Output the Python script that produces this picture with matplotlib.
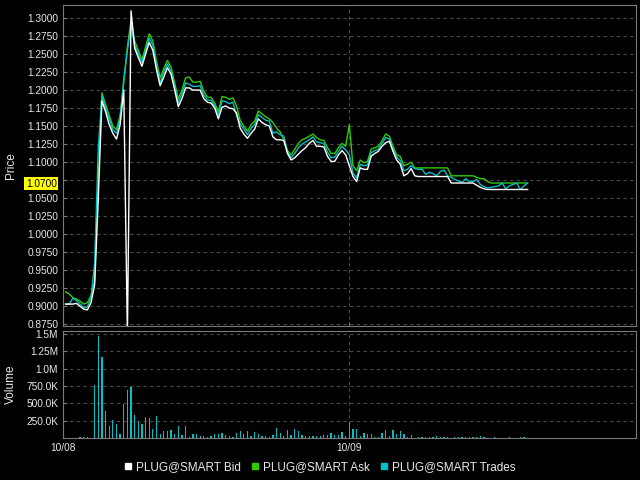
import numpy as np
import matplotlib.pyplot as plt
from matplotlib.lines import Line2D

# 5-minute bars, 10/08 session start -> 10/09
ask = [0.920, 0.917, 0.912, 0.910, 0.907, 0.903, 0.905, 0.915, 0.935, 1.080,
       1.196, 1.180, 1.165, 1.150, 1.145, 1.165, 1.210, 1.260, 1.297, 1.268,
       1.255, 1.242, 1.260, 1.278, 1.268, 1.240, 1.217, 1.230, 1.241, 1.232,
       1.210, 1.188, 1.200, 1.217, 1.218, 1.211, 1.211, 1.212, 1.198, 1.190,
       1.190, 1.182, 1.170, 1.191, 1.190, 1.187, 1.189, 1.178, 1.158, 1.150,
       1.143, 1.152, 1.157, 1.171, 1.167, 1.163, 1.160, 1.155, 1.147, 1.142,
       1.130, 1.116, 1.110, 1.118, 1.126, 1.131, 1.133, 1.136, 1.139, 1.134,
       1.131, 1.130, 1.120, 1.112, 1.112, 1.120, 1.126, 1.122, 1.152, 1.095,
       1.088, 1.103, 1.099, 1.101, 1.118, 1.120, 1.122, 1.130, 1.139, 1.136,
       1.122, 1.110, 1.108, 1.095, 1.097, 1.100, 1.092, 1.092, 1.092, 1.092,
       1.092, 1.092, 1.092, 1.092, 1.092, 1.092, 1.081, 1.081, 1.081, 1.081,
       1.081, 1.081, 1.081, 1.079, 1.077, 1.077, 1.073, 1.071, 1.071, 1.071,
       1.071, 1.071, 1.071, 1.071, 1.071, 1.071, 1.071, 1.071]

bid = [0.903, 0.903, 0.903, 0.904, 0.900, 0.896, 0.895, 0.905, 0.930, 1.050,
       1.185, 1.170, 1.152, 1.140, 1.132, 1.152, 1.200, 0.860, 1.310, 1.258,
       1.245, 1.233, 1.250, 1.266, 1.255, 1.228, 1.206, 1.218, 1.231, 1.222,
       1.200, 1.177, 1.188, 1.203, 1.203, 1.200, 1.200, 1.200, 1.188, 1.183,
       1.182, 1.175, 1.160, 1.176, 1.178, 1.175, 1.174, 1.168, 1.147, 1.139,
       1.133, 1.140, 1.146, 1.160, 1.155, 1.152, 1.150, 1.135, 1.131, 1.131,
       1.130, 1.112, 1.103, 1.106, 1.111, 1.116, 1.120, 1.126, 1.130, 1.122,
       1.122, 1.121, 1.108, 1.101, 1.101, 1.110, 1.116, 1.110, 1.095, 1.080,
       1.073, 1.092, 1.090, 1.090, 1.108, 1.112, 1.115, 1.122, 1.127, 1.129,
       1.115, 1.103, 1.097, 1.081, 1.084, 1.091, 1.081, 1.080, 1.080, 1.080,
       1.080, 1.080, 1.080, 1.080, 1.080, 1.080, 1.071, 1.071, 1.071, 1.071,
       1.071, 1.071, 1.071, 1.068, 1.065, 1.063, 1.062, 1.062, 1.062, 1.062,
       1.062, 1.062, 1.062, 1.062, 1.062, 1.062, 1.062, 1.062]

trades = [0.903, 0.903, 0.911, 0.908, 0.903, 0.898, 0.899, 0.912, 0.960, 1.120,
          1.192, 1.175, 1.160, 1.145, 1.140, 1.160, 1.215, 1.255, 1.290, 1.262,
          1.250, 1.238, 1.255, 1.272, 1.262, 1.234, 1.210, 1.225, 1.236, 1.226,
          1.205, 1.182, 1.195, 1.210, 1.208, 1.205, 1.205, 1.206, 1.193, 1.186,
          1.186, 1.178, 1.165, 1.185, 1.184, 1.181, 1.183, 1.165, 1.153, 1.146,
          1.138, 1.147, 1.152, 1.166, 1.162, 1.158, 1.157, 1.140, 1.142, 1.138,
          1.136, 1.114, 1.106, 1.112, 1.120, 1.125, 1.128, 1.131, 1.135, 1.128,
          1.127, 1.126, 1.114, 1.106, 1.107, 1.115, 1.122, 1.117, 1.110, 1.085,
          1.078, 1.097, 1.095, 1.096, 1.113, 1.116, 1.118, 1.126, 1.134, 1.132,
          1.118, 1.107, 1.102, 1.088, 1.090, 1.095, 1.091, 1.090, 1.090, 1.083,
          1.086, 1.084, 1.081, 1.087, 1.089, 1.081, 1.079, 1.076, 1.074, 1.072,
          1.077, 1.073, 1.073, 1.076, 1.069, 1.066, 1.064, 1.065, 1.066, 1.067,
          1.071, 1.063, 1.067, 1.069, 1.071, 1.062, 1.067, 1.071]

# volume in thousands
volume = [0, 0, 0, 0, 10, 10, 16, 0, 770, 1470,
          1175, 386, 178, 260, 202, 58, 496, 694, 737, 332,
          236, 198, 299, 289, 130, 322, 58, 101, 106, 116,
          62, 173, 43, 173, 14, 58, 58, 29, 25, 19,
          29, 62, 58, 77, 43, 29, 19, 68, 108, 60,
          103, 24, 87, 63, 24, 24, 14, 48, 145, 77,
          24, 120, 48, 135, 106, 48, 34, 34, 24, 34,
          34, 48, 48, 72, 48, 48, 92, 24, 224, 130,
          130, 36, 68, 58, 58, 19, 19, 77, 120, 29,
          111, 58, 96, 58, 19, 43, 0, 14, 12, 12,
          18, 12, 25, 12, 17, 18, 0, 10, 12, 20,
          17, 12, 12, 18, 35, 10, 0, 0, 10, 0,
          0, 0, 10, 0, 0, 10, 10, 0]

day_labels = ['10/08', '10/09']
day_starts = [-0.7, 78]
last_price = 1.07

price_ticks = np.arange(0.875, 1.3001, 0.025)
vol_ticks = [250, 500, 750, 1000, 1250, 1500]
vol_labels = ['250.0K', '500.0K', '750.0K', '1.0M', '1.25M', '1.5M']

c_bid = 'white'
c_ask = '#33cc00'
c_trd = '#00c0c8'
fg = '#e8e8e8'
spine_c = '#7a7a7a'
grid_c = '#4a4a4a'

plt.rcParams['font.family'] = ['Liberation Sans', 'DejaVu Sans']

x = np.arange(len(trades))

fig = plt.figure(figsize=(6.4, 4.8), dpi=100, facecolor='black')
ax = fig.add_axes([63/640, 1-326/480, 573/640, 321/480], facecolor='black')
axv = fig.add_axes([63/640, 1-438/480, 573/640, 107/480], facecolor='black', sharex=ax)

ax.plot(x, ask, color=c_ask, lw=1.0)
ax.plot(x, trades, color=c_trd, lw=1.0)
ax.plot(x, bid, color=c_bid, lw=1.0)
axv.bar(x, volume, width=0.35, color=c_trd)

ax.set_xlim(-0.7, 156.8)
ax.set_ylim(0.8726, 1.318)
axv.set_ylim(0, 1543)

ax.set_yticks(price_ticks)
ax.set_yticklabels(['' if abs(t - 1.075) < 1e-6 else '%.4f' % t for t in price_ticks])
axv.set_yticks(vol_ticks)
axv.set_yticklabels(vol_labels)
axv.set_xticks(day_starts)
axv.set_xticklabels(day_labels)
ax.tick_params(axis='x', labelbottom=False)

for a in (ax, axv):
    for s in a.spines.values():
        s.set_color(spine_c)
    a.tick_params(colors=spine_c, labelcolor=fg, labelsize=7.3, length=3, direction='in')
    a.grid(True, color=grid_c, linestyle=(0, (3, 3)), lw=0.8)
    a.set_axisbelow(True)

ax.set_ylabel('Price', color=fg, fontsize=8.5)
axv.set_ylabel('Volume', color=fg, fontsize=8.5)
ax.yaxis.set_label_coords(-0.080, 0.5)
axv.yaxis.set_label_coords(-0.080, 0.5)

ax.text(-0.011, last_price, '%.4f' % last_price, transform=ax.get_yaxis_transform(),
        ha='right', va='center', fontsize=7.3, color='black',
        bbox=dict(boxstyle='square,pad=0.15', fc='#ffff00', ec='none'))

handles = [Line2D([], [], ls='none', marker='s', ms=4, color=c) for c in (c_bid, c_ask, c_trd)]
fig.legend(handles, ['PLUG@SMART Bid', 'PLUG@SMART Ask', 'PLUG@SMART Trades'],
           loc='center', bbox_to_anchor=(0.5, 1-467/480), ncol=3, frameon=False,
           labelcolor=fg, fontsize=8.5, handlelength=0.6, handletextpad=0.4, columnspacing=0.9)

fig.savefig('out.png', dpi=100, facecolor='black')
